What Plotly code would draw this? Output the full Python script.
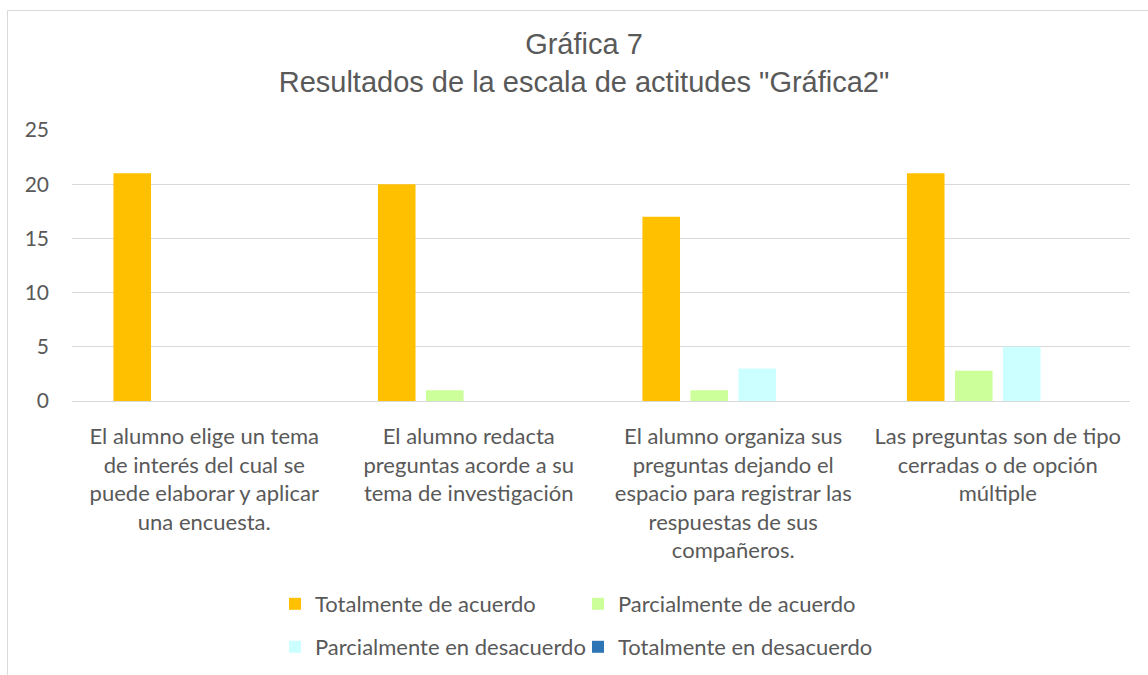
import plotly.graph_objects as go

categories = [
    "El alumno elige un tema<br>de interés del cual se<br>puede elaborar y aplicar<br>una encuesta.",
    "El alumno redacta<br>preguntas acorde a su<br>tema de investigación",
    "El alumno organiza sus<br>preguntas dejando el<br>espacio para registrar las<br>respuestas de sus<br>compañeros.",
    "Las preguntas son de tipo<br>cerradas o de opción<br>múltiple",
]
series_names = [
    "Totalmente de acuerdo",
    "Parcialmente de acuerdo",
    "Parcialmente en desacuerdo",
    "Totalmente en desacuerdo",
]
totalmente_acuerdo = [21, 20, 17, 21]
parcialmente_acuerdo = [0, 1, 1, 2.8]
parcialmente_desacuerdo = [0, 0, 3, 5]
totalmente_desacuerdo = [0, 0, 0, 0]
y_ticks = [0, 5, 10, 15, 20, 25]

colors = ["#FFC000", "#CCFF99", "#CCFFFF", "#2E75B6"]
values = [totalmente_acuerdo, parcialmente_acuerdo, parcialmente_desacuerdo, totalmente_desacuerdo]
legends = ["legend", "legend", "legend2", "legend2"]

W, H = 1148, 675
L, R, T, B = 72, 1130, 130, 401
pw, ph = R - L, B - T

def px_x(p):
    return (p - L) / pw

def px_y(p):
    return (B - p) / ph

fig = go.Figure()
for name, vals, col, lg in zip(series_names, values, colors, legends):
    fig.add_trace(go.Bar(
        name=name, x=categories, y=vals, marker_color=col,
        marker_line_width=0, legend=lg,
    ))

font_main = "Lato, Open Sans, sans-serif"
grey = "#595959"
legend_common = dict(
    orientation="h", xref="paper", yref="paper", xanchor="left", yanchor="middle",
    entrywidth=258, entrywidthmode="pixels",
    font=dict(family=font_main, size=22, color=grey),
    bgcolor="rgba(0,0,0,0)", itemclick=False, itemdoubleclick=False,
)

fig.update_layout(
    width=W, height=H,
    margin=dict(l=L, r=W - R, t=T, b=H - B, autoexpand=False),
    paper_bgcolor="white", plot_bgcolor="white",
    barmode="group", bargap=0.274, bargroupgap=0.217,
    title=dict(
        text="Gráfica 7<br>Resultados de la escala de actitudes \"Gráfica2\"",
        x=px_x(584), xref="paper", xanchor="center",
        y=1 - 54 / H, yref="container", yanchor="top",
        font=dict(family="Liberation Sans, Arial, sans-serif", size=29, color=grey),
    ),
    xaxis=dict(
        showgrid=False, showline=False, zeroline=False,
        ticks="", tickfont=dict(family=font_main, size=22, color=grey),
        ticklabelstandoff=20,
    ),
    yaxis=dict(
        range=[0, 25], tickvals=y_ticks, showgrid=True, gridcolor="#D9D9D9", gridwidth=1,
        zeroline=True, zerolinecolor="#D9D9D9", zerolinewidth=1, showline=False,
        ticks="", tickfont=dict(family=font_main, size=21, color=grey),
        ticklabelstandoff=22,
    ),
    legend=dict(x=px_x(275), y=px_y(604), **legend_common),
    legend2=dict(x=px_x(275), y=px_y(647), **legend_common),
    shapes=[dict(
        type="rect", xref="paper", yref="paper",
        x0=px_x(7.5), x1=px_x(1200), y0=px_y(10.5), y1=px_y(720),
        line=dict(color="#D9D9D9", width=1), fillcolor="rgba(0,0,0,0)", layer="below",
    )],
)

fig.write_html(
    "out.html",
    config={"displayModeBar": False},
    post_script="document.body.style.margin='0';",
)
